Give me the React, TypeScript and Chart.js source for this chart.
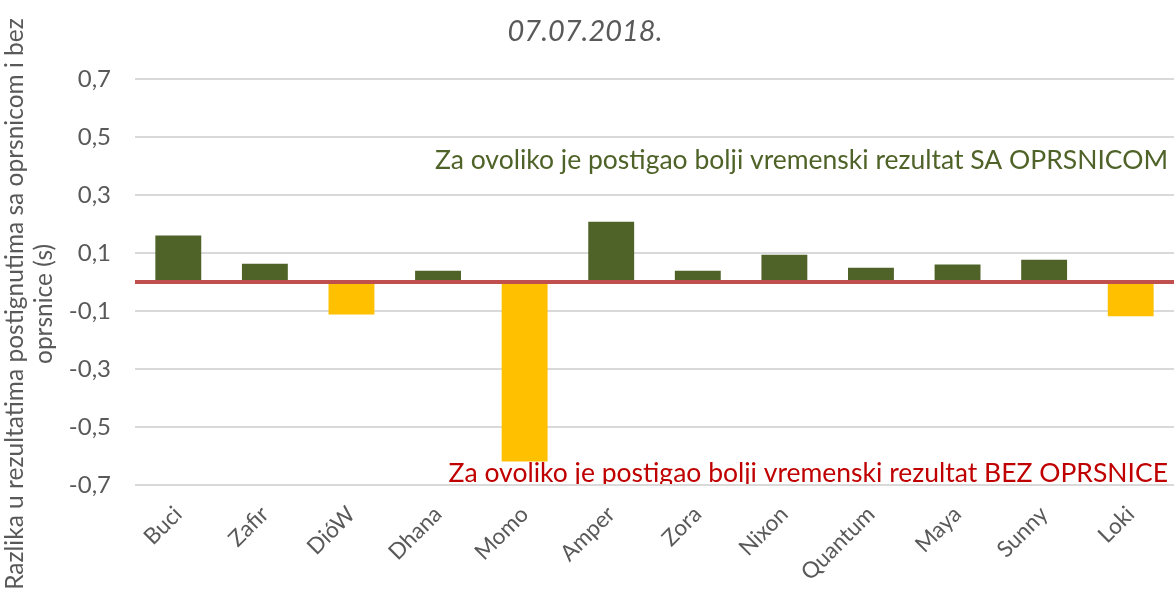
import React, { useEffect, useRef } from 'react';
import { Chart, registerables } from 'chart.js';

Chart.register(...registerables);

// ---- data ----
const categories = ['Buci', 'Zafir', 'DióW', 'Dhana', 'Momo', 'Amper', 'Zora', 'Nixon', 'Quantum', 'Maya', 'Sunny', 'Loki'];
const differences = [0.16, 0.063, -0.112, 0.039, -0.619, 0.208, 0.039, 0.094, 0.049, 0.06, 0.077, -0.118];
const yMin = -0.7;
const yMax = 0.7;
const yStep = 0.2;
const titleText = '07.07.2018.';
const yTitleLines = ['Razlika u rezultatima postignutima sa oprsnicom i bez', 'oprsnice (s)'];
const noteWith = 'Za ovoliko je postigao bolji vremenski rezultat SA OPRSNICOM';
const noteWithout = 'Za ovoliko je postigao bolji vremenski rezultat BEZ OPRSNICE';

const FONT = 'Lato, "Open Sans", sans-serif';
const GREEN = '#4F6228';
const YELLOW = '#FFC000';
const ZERO_RED = '#C0504D';
const NOTE_RED = '#C00000';
const GREY_TEXT = '#595959';

const overlayPlugin = {
  id: 'overlay',
  afterDatasetsDraw(chart: any) {
    const { ctx, chartArea, scales } = chart;
    const y0 = scales.y.getPixelForValue(0);
    ctx.save();
    ctx.strokeStyle = ZERO_RED;
    ctx.lineWidth = 4;
    ctx.beginPath();
    ctx.moveTo(chartArea.left, y0);
    ctx.lineTo(chartArea.right, y0);
    ctx.stroke();
    ctx.restore();
  },
  afterDraw(chart: any) {
    const { ctx, chartArea } = chart;
    ctx.save();
    // title
    ctx.fillStyle = GREY_TEXT;
    ctx.font = `italic 29px ${FONT}`;
    ctx.textAlign = 'center';
    ctx.textBaseline = 'alphabetic';
    ctx.fillText(titleText, 585, 41);

    // y axis title (rotated)
    ctx.font = `24.5px ${FONT}`;
    ctx.textBaseline = 'middle';
    ctx.textAlign = 'center';
    const xs = [15, 44];
    yTitleLines.forEach((line, i) => {
      ctx.save();
      ctx.translate(xs[i], 304);
      ctx.rotate(-Math.PI / 2);
      ctx.fillText(line, 0, 0);
      ctx.restore();
    });

    // notes
    ctx.font = `26.5px ${FONT}`;
    ctx.textAlign = 'right';
    ctx.textBaseline = 'alphabetic';
    ctx.fillStyle = GREEN;
    ctx.fillText(noteWith, 1168, 169);

    ctx.save();
    ctx.beginPath();
    ctx.rect(0, 0, 1174, chartArea.bottom - 1);
    ctx.clip();
    ctx.fillStyle = NOTE_RED;
    ctx.fillText(noteWithout, 1168, 482);
    ctx.restore();

    ctx.restore();
  },
};

export default function App() {
  const canvasRef = useRef<HTMLCanvasElement | null>(null);

  useEffect(() => {
    document.body.style.margin = '0';
    const canvas = canvasRef.current;
    if (!canvas) return;
    const chart = new Chart(canvas, {
      type: 'bar',
      data: {
        labels: categories,
        datasets: [
          {
            data: differences,
            backgroundColor: (c: any) => ((c.raw ?? 0) >= 0 ? GREEN : YELLOW),
            borderWidth: 0,
            categoryPercentage: 1,
            barPercentage: 0.53,
          },
        ],
      },
      options: {
        responsive: false,
        maintainAspectRatio: false,
        animation: false,
        devicePixelRatio: 1,
        layout: { padding: { top: 79, left: 0, right: 0, bottom: 0 } },
        plugins: {
          legend: { display: false },
          title: { display: false },
          tooltip: { enabled: false },
        },
        scales: {
          x: {
            grid: { display: false },
            border: { display: false },
            ticks: {
              color: GREY_TEXT,
              font: { family: FONT, size: 22.5 },
              maxRotation: 45,
              minRotation: 45,
              padding: 8,
            },
            afterFit: (s: any) => {
              s.height = 107;
            },
          },
          y: {
            min: yMin,
            max: yMax,
            grid: { color: '#D9D9D9', lineWidth: 2, drawTicks: false },
            border: { display: false },
            ticks: {
              stepSize: yStep,
              color: GREY_TEXT,
              font: { family: FONT, size: 24 },
              padding: 24,
              callback: (v: any) => Number(v).toFixed(1).replace('.', ','),
            },
            afterFit: (s: any) => {
              s.width = 135;
            },
          },
        },
      },
      plugins: [overlayPlugin],
    });
    return () => chart.destroy();
  }, []);

  return (
    <div style={{ width: 1174, height: 592, position: 'relative' }}>
      <canvas ref={canvasRef} width={1174} height={592} style={{ display: 'block', width: 1174, height: 592 }} />
    </div>
  );
}
